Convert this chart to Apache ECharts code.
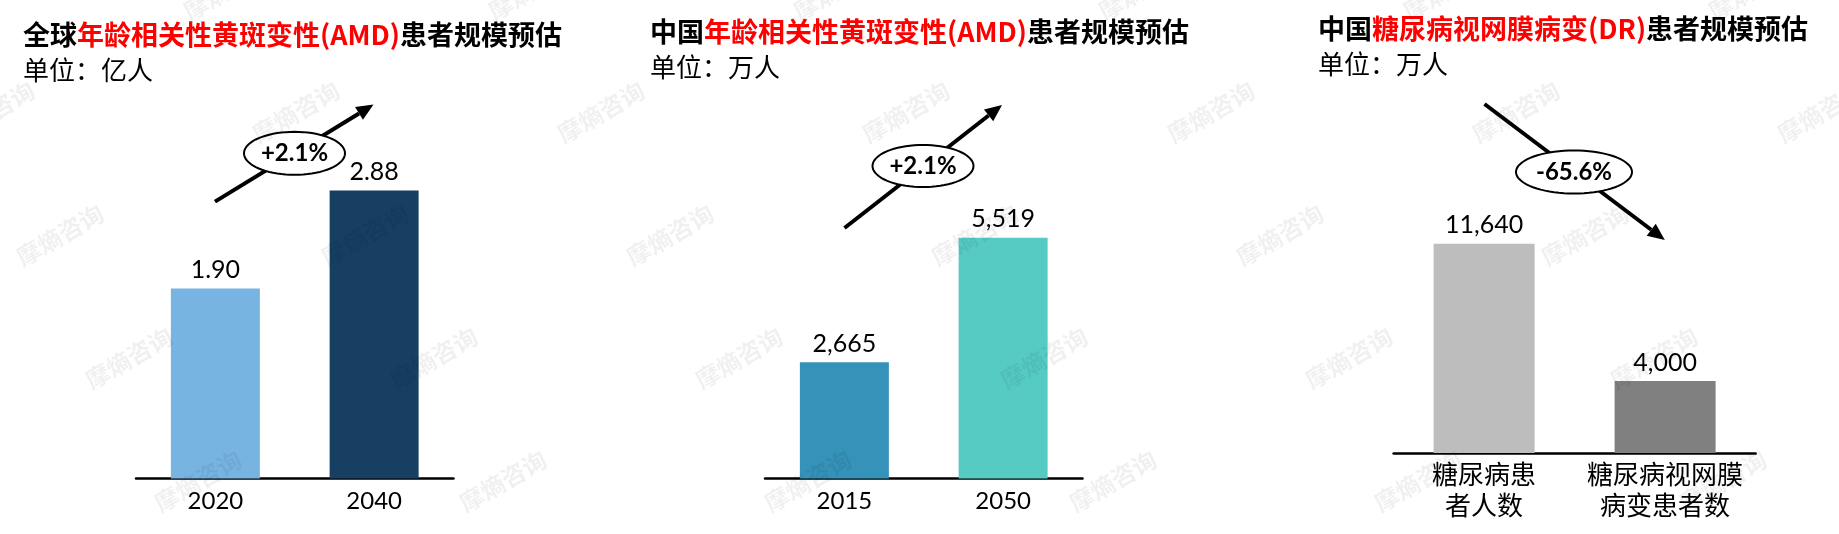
<!DOCTYPE html>
<html>
<head>
<meta charset="utf-8">
<script src="https://cdn.jsdelivr.net/npm/echarts@6/dist/echarts.min.js"></script>
<style>
  html, body { margin: 0; padding: 0; background: #fff; }
  #main { width: 1839px; height: 534px; }
</style>
</head>
<body>
<div id="main"></div>
<script>
// 全球 AMD (亿人)
const amdWorldYears = ['2020', '2040']
const amdWorldValues = [1.90, 2.88]
// 中国 AMD (万人)
const amdChinaYears = ['2015', '2050']
const amdChinaValues = [2665, 5519]
// 中国 DR (万人)
const drCategories = ['糖尿病患\n者人数', '糖尿病视网膜\n病变患者数']
const drValues = [11640, 4000]
// 增速标注
const changeLabels = ['+2.1%', '+2.1%', '-65.6%']

const NUM_FONT = 'Lato, "Noto Sans", sans-serif'
const CJK_FONT = '"Noto Sans CJK SC", sans-serif'

const chart = echarts.init(document.getElementById('main'), null, { renderer: 'canvas' })

function makeTitle (left, top, pre, red, post, unit) {
  return {
    left: left,
    top: top,
    text: '{k|' + pre + '}{r|' + red + '}{k|' + post + '}',
    subtext: unit,
    itemGap: 10,
    padding: 0,
    textStyle: {
      rich: {
        k: { fontFamily: CJK_FONT, fontSize: 27, fontWeight: 'bold', color: '#000', lineHeight: 34 },
        r: { fontFamily: CJK_FONT, fontSize: 27, fontWeight: 'bold', color: '#ff0000', lineHeight: 34 }
      }
    },
    subtextStyle: { fontFamily: CJK_FONT, fontSize: 26, color: '#000', lineHeight: 30 }
  }
}

function barSeries (idx, values, colors, fmt) {
  return {
    type: 'bar',
    xAxisIndex: idx,
    yAxisIndex: idx,
    data: values.map((v, i) => ({ value: v, itemStyle: { color: colors[i] } })),
    barWidth: idx === 2 ? 101 : 89,
    label: {
      show: true,
      position: 'top',
      distance: 6,
      fontFamily: NUM_FONT,
      fontSize: 25,
      color: '#000',
      formatter: p => fmt(p.value)
    }
  }
}

function catAxis (idx, data, cjk) {
  return {
    type: 'category',
    gridIndex: idx,
    data: data,
    axisTick: { show: false },
    axisLine: { lineStyle: { color: '#000', width: 2.5 } },
    axisLabel: cjk
      ? { interval: 0, fontFamily: CJK_FONT, fontSize: 26, color: '#000', lineHeight: 31, margin: 6 }
      : { interval: 0, fontFamily: NUM_FONT, fontSize: 24, color: '#000', margin: 11 }
  }
}

function valAxis (idx, max) {
  return { type: 'value', gridIndex: idx, min: 0, max: max, show: false, splitLine: { show: false } }
}

// 箭头 + 椭圆标注
function arrow (x1, y1, x2, y2) {
  const ang = Math.atan2(y2 - y1, x2 - x1)
  const len = 17, half = 7.5
  const bx = x2 - len * Math.cos(ang), by = y2 - len * Math.sin(ang)
  const px = -Math.sin(ang) * half, py = Math.cos(ang) * half
  return [
    { type: 'line', z: 10, shape: { x1: x1, y1: y1, x2: bx, y2: by }, style: { stroke: '#000', lineWidth: 4 } },
    { type: 'polygon', z: 10, shape: { points: [[x2, y2], [bx + px, by + py], [bx - px, by - py]] }, style: { fill: '#000' } }
  ]
}

function ellipseTag (cx, cy, rx, ry, text) {
  const pts = []
  for (let i = 0; i < 72; i++) {
    const t = i / 72 * Math.PI * 2
    pts.push([cx + rx * Math.cos(t), cy + ry * Math.sin(t)])
  }
  return [
    { type: 'polygon', z: 11, shape: { points: pts }, style: { fill: '#fff', stroke: '#000', lineWidth: 2 } },
    { type: 'text', z: 12, x: cx, y: cy, style: { text: text, fontFamily: NUM_FONT, fontWeight: 'bold', fontSize: 24, fill: '#000', align: 'center', verticalAlign: 'middle' } }
  ]
}

// 水印
function watermarks () {
  const out = []
  for (let i = -3; i < 8; i++) {
    for (let j = -2; j < 5; j++) {
      const x = 296 + i * 305 + j * 69
      const y = 112 + j * 123
      if (x < -80 || x > 1920 || y < -40 || y > 580) continue
      out.push({
        type: 'text', z: 50, x: x, y: y, rotation: Math.PI / 6,
        style: { text: '摩熵咨询', fontFamily: CJK_FONT, fontWeight: 'bold', fontSize: 24, fill: 'rgba(0,0,0,0.06)', align: 'center', verticalAlign: 'middle' }
      })
    }
  }
  return out
}

const option = {
  backgroundColor: '#fff',
  animation: false,
  title: [
    makeTitle(23, 18, '全球', '年龄相关性黄斑变性(AMD)', '患者规模预估', '单位：亿人'),
    makeTitle(650, 15, '中国', '年龄相关性黄斑变性(AMD)', '患者规模预估', '单位：万人'),
    makeTitle(1318, 12, '中国', '糖尿病视网膜病变(DR)', '患者规模预估', '单位：万人')
  ],
  grid: [
    { left: 136, top: 178.5, width: 317.5, height: 300 },
    { left: 765, top: 216.8, width: 317.5, height: 261.7 },
    { left: 1393.6, top: 237.2, width: 362, height: 215.8 }
  ],
  xAxis: [
    catAxis(0, amdWorldYears, false),
    catAxis(1, amdChinaYears, false),
    catAxis(2, drCategories, true)
  ],
  yAxis: [valAxis(0, 3), valAxis(1, 6000), valAxis(2, 12000)],
  series: [
    barSeries(0, amdWorldValues, ['#78b4e2', '#163f62'], v => v.toFixed(2)),
    barSeries(1, amdChinaValues, ['#3592b8', '#55cbc4'], v => v.toLocaleString('en-US')),
    barSeries(2, drValues, ['#bdbdbd', '#808080'], v => v.toLocaleString('en-US'))
  ],
  graphic: [].concat(
    arrow(215, 201.6, 373.5, 104.6),
    ellipseTag(294.5, 153.3, 50.5, 21.5, changeLabels[0]),
    arrow(844.5, 228, 1002, 105),
    ellipseTag(923, 166, 50.5, 21, changeLabels[1]),
    arrow(1484.5, 104, 1664.8, 240),
    ellipseTag(1574, 172, 58, 21.5, changeLabels[2]),
    watermarks()
  )
}

chart.setOption(option)
window.addEventListener('resize', () => chart.resize())
</script>
</body>
</html>
